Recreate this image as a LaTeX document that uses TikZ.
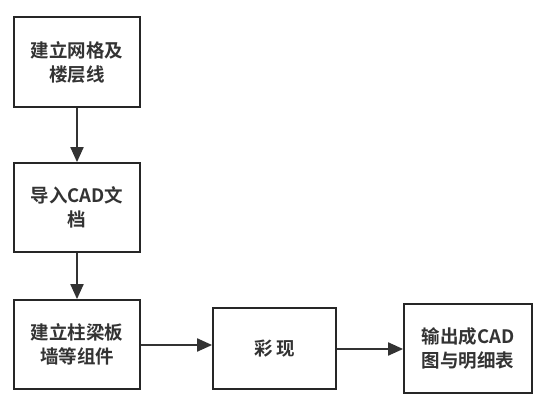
\documentclass[tikz,border=0pt]{standalone}
\usepackage{fontspec}
\newfontfamily\cjk{Noto Sans CJK SC}[BoldFont={* Bold}]
\usetikzlibrary{arrows.meta}
\begin{document}
\begin{tikzpicture}[x=1pt,y=-1pt,
  box/.style={draw=black!85, line width=1.8pt, fill=white, inner sep=0pt, font=\cjk\bfseries\fontsize{18.5}{24}\selectfont, text=black!80, align=center},
  conn/.style={draw=black!80, line width=2pt, -{Triangle[length=15pt,width=13pt]}}]
\useasboundingbox (0,0) rectangle (552,402);
\node[box, minimum width=126pt, minimum height=90pt] (a) at (77,62) {建立网格及\\楼层线};
\node[box, minimum width=126pt, minimum height=89pt] (b) at (77,207.5) {导入CAD文\\档};
\node[box, minimum width=126pt, minimum height=89pt] (c) at (77,344.5) {建立柱梁板\\墙等组件};
\node[box, minimum width=123pt, minimum height=81pt] (d) at (274.5,348.5) {彩\,现};
\node[box, minimum width=128pt, minimum height=89pt] (e) at (468,348.5) {输出成CAD\\图与明细表};
\draw[conn] (a) -- (b);
\draw[conn] (b) -- (c);
\draw[conn] (c.east |- 0,345) -- (d.west |- 0,345);
\draw[conn] (d.east |- 0,349) -- (e.west |- 0,349);
\end{tikzpicture}
\end{document}
